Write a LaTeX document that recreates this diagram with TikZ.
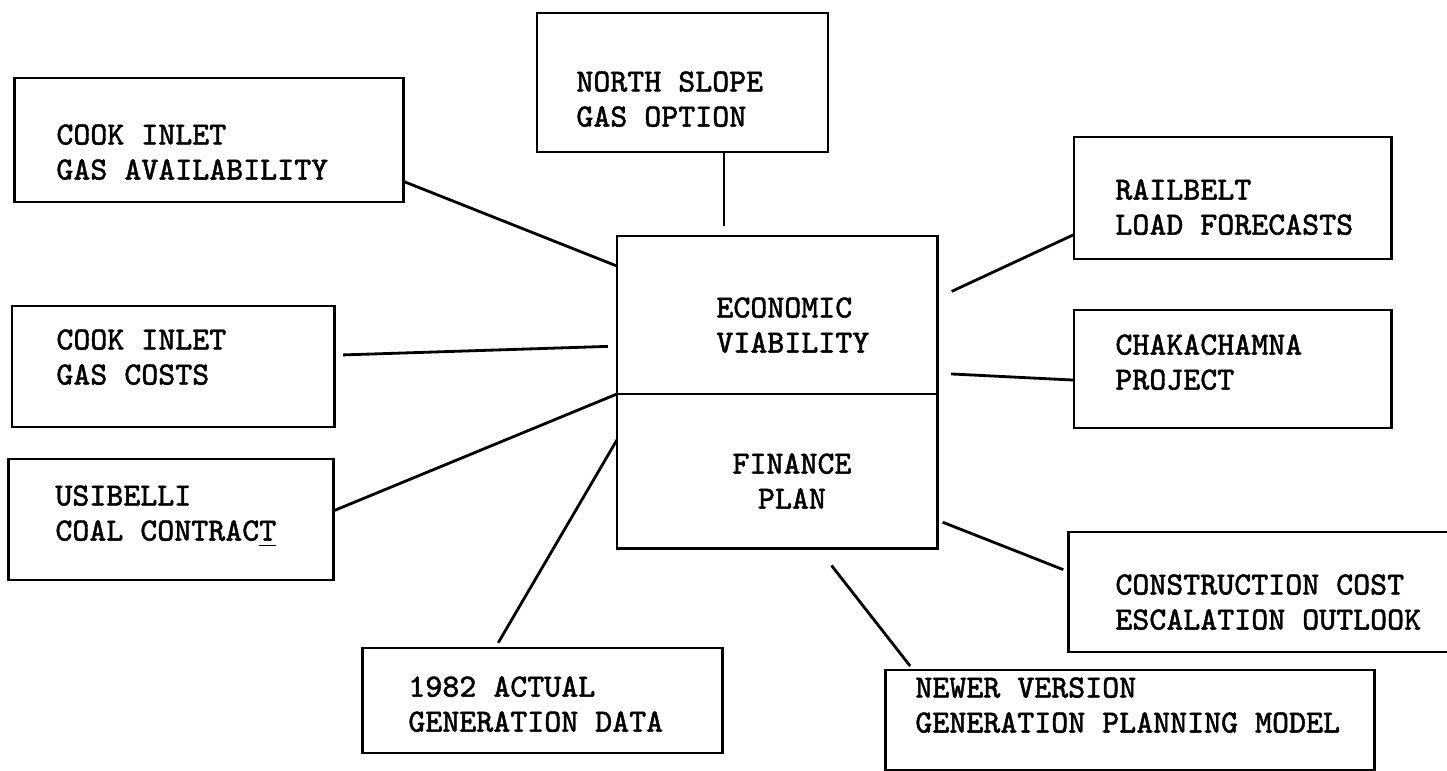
\documentclass[tikz,border=0pt]{standalone}
\usepackage{fontspec}
\setmonofont{Latin Modern Mono}[FakeBold=1.3]
\usepackage{tikz}
\usetikzlibrary{positioning}

\begin{document}
\begin{tikzpicture}[
    line width=0.8pt,
    x=0.01cm,
    y=-0.01cm,
    every node/.style={font=\ttfamily\fontsize{9.2}{9.96}\selectfont},
    box/.style={draw, rectangle, inner sep=0pt, outer sep=0pt},
    txt/.style={anchor=north west, inner sep=0pt, align=left}
]
\useasboundingbox (0,0) rectangle (1447,771);

% 中心框
\node[box, minimum width=3.2cm, minimum height=1.58cm] (econ) at (777,315) {};
\node[box, minimum width=3.2cm, minimum height=1.54cm, below=0pt of econ] (fin) {};
\node[txt] (econT) at (715,296) {ECONOMIC\\VIABILITY};
\node[txt, anchor=north, align=center] (finT) at (792,452) {FINANCE\\PLAN};

% 左侧
\node[box, minimum width=3.88cm, minimum height=1.24cm] (avail) at (209,140) {};
\node[txt] (availT) at (55,123) {COOK INLET\\GAS AVAILABILITY};
\node[box, minimum width=3.22cm, minimum height=1.21cm] (costs) at (173,366.5) {};
\node[txt] (costsT) at (55,328) {COOK INLET\\GAS COSTS};
\node[box, minimum width=3.24cm, minimum height=1.21cm] (usib) at (171,519.5) {};
\node[txt] (usibT) at (54,484) {USIBELLI\\COAL CONTRAC\underline{T}};

% 上方和下方
\node[box, minimum width=2.91cm, minimum height=1.39cm] (north) at (682.5,82.5) {};
\node[txt] (northT) at (575,70) {NORTH SLOPE\\GAS OPTION};
\node[box, minimum width=3.59cm, minimum height=1.05cm] (actual) at (542.5,700.5) {};
\node[txt] (actualT) at (407,675) {1982 ACTUAL\\GENERATION DATA};
\node[box, minimum width=4.88cm, minimum height=1.0cm] (newer) at (1130,720) {};
\node[txt] (newerT) at (914,676) {NEWER VERSION\\GENERATION PLANNING MODEL};

% 右侧
\node[box, minimum width=3.17cm, minimum height=1.22cm] (rail) at (1232.5,198) {};
\node[txt] (railT) at (1114,178) {RAILBELT\\LOAD FORECASTS};
\node[box, minimum width=3.17cm, minimum height=1.18cm] (chak) at (1232.5,369) {};
\node[txt] (chakT) at (1114,333) {CHAKACHAMNA\\PROJECT};
\node[box, minimum width=3.83cm, minimum height=1.2cm] (constr) at (1260.5,592) {};
\node[txt] (constrT) at (1114,573) {CONSTRUCTION COST\\ESCALATION OUTLOOK};

% 连线
\draw (avail.-12) -- (econ.163);
\draw[shorten >=1mm] ([xshift=4.15mm]north.south) -- ([xshift=4.15mm]north.south |- econ.north);
\draw[shorten <=0.9mm, shorten >=0.9mm] (costs.4) -- (econ.-169);
\draw (usib.3) -- (fin.north west);
\draw[shorten <=0.6mm] (actual.132) -- (fin.169);
\draw[shorten >=1.6mm] (rail.-167) -- (econ.6);
\draw[shorten >=1.4mm] (chak.-176) -- (econ.-20);
\draw[shorten <=0.6mm, shorten >=0.6mm] (constr.174) -- (fin.-17);
\draw[shorten <=0.5mm, shorten >=2.2mm] (newer.167) -- (fin.-62);

\end{tikzpicture}
\end{document}
